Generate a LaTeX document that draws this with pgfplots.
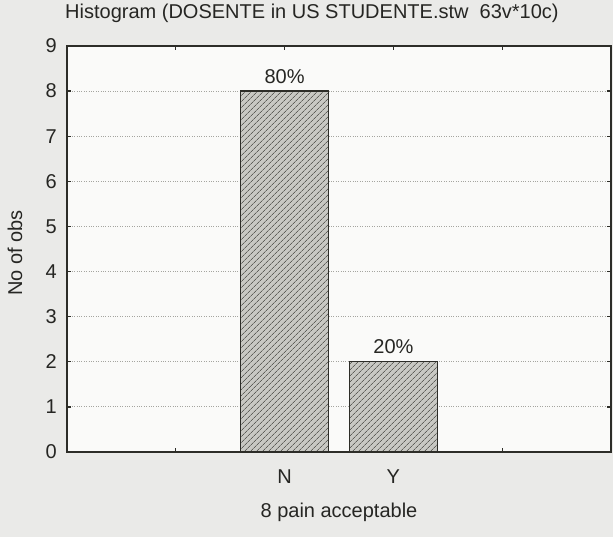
\documentclass[border=0pt]{standalone}
\usepackage{fontspec}
\setmainfont{Liberation Sans}
\usepackage{pgfplots}
\pgfplotsset{compat=1.18}
\usepackage{pgfplotstable}
\usetikzlibrary{patterns.meta}

\definecolor{pagebg}{RGB}{234,234,232}
\definecolor{plotbg}{RGB}{250,250,249}
\definecolor{ink}{RGB}{45,45,40}
\definecolor{txt}{RGB}{38,38,35}
\definecolor{barfill}{RGB}{200,200,195}
\definecolor{hatch}{RGB}{95,95,90}
\definecolor{gridc}{RGB}{165,165,160}

% counts per category, with share of the 10 observations
\pgfplotstableread{
x y pct
2 8 80
3 2 20
}\counts

\newcommand{\chartfont}{\fontsize{20}{24}\selectfont}

\begin{document}
\begin{tikzpicture}
\path[use as bounding box, fill=pagebg] (0,0) rectangle (613pt,537pt);
\begin{axis}[
  at={(67pt,85pt)}, anchor=south west,
  scale only axis, width=544pt, height=406pt,
  xmin=0, xmax=5, ymin=0, ymax=9,
  xtick={1,2,3,4}, xticklabels={,N,Y,},
  ytick={0,1,...,9},
  tick align=inside, major tick length=4pt,
  xtick pos=both, ytick pos=both,
  every tick/.style={ink, line width=1.3pt},
  axis line style={ink, line width=1.6pt},
  axis background/.style={fill=plotbg},
  ymajorgrids,
  major grid style={gridc, dotted, line width=0.8pt},
  /pgf/number format/assume math mode=true,
  tick label style={font=\chartfont, text=txt},
  xticklabel style={anchor=base, yshift=-32pt},
  yticklabel style={anchor=east, inner sep=0pt, xshift=-10pt},
  title={Histogram (DOSENTE in US STUDENTE.stw\ \ 63v*10c)},
  title style={font=\chartfont, text=txt, at={(axis description cs:0,1)},
    anchor=base west, yshift=21pt, xshift=-2pt, inner sep=0pt},
  xlabel={8 pain acceptable},
  xlabel style={font=\chartfont, text=txt, at={(axis description cs:0.5,0)},
    anchor=base, yshift=-66pt, inner sep=0pt},
  ylabel={No of obs},
  ylabel style={font=\chartfont, text=txt, at={(axis description cs:-0.0956,0.49)},
    anchor=center, rotate=0, inner sep=0pt},
]
\addplot[ybar, bar width=88pt, fill=barfill, draw=ink, line width=1.4pt,
  postaction={pattern={Lines[angle=45, distance=4pt, line width=0.8pt]}, pattern color=hatch},
  point meta=explicit symbolic,
  nodes near coords={\pgfplotspointmeta\%},
  nodes near coords style={font=\chartfont, text=txt, anchor=base, yshift=8pt, inner sep=0pt},
] table[x=x, y=y, meta=pct] {\counts};
\end{axis}
\end{tikzpicture}
\end{document}
